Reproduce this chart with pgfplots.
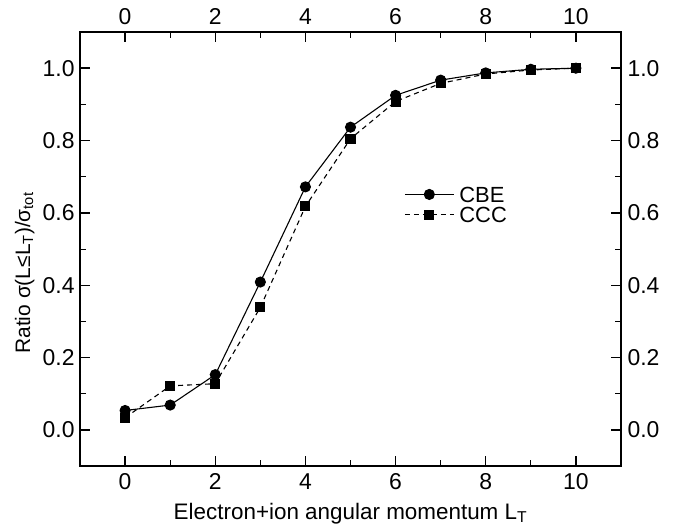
\documentclass[border=0pt]{standalone}
\usepackage{fontspec}
\setmainfont{Liberation Sans}
\usepackage{pgfplots}
\pgfplotsset{compat=1.18}

\pgfplotsset{
    ratioaxis/.style={
        scale only axis,
        width=540.7bp, height=434bp,
        at={(0,0)}, anchor=south west,
        xmin=-1, xmax=11, ymin=-0.1, ymax=1.1,
        xtick={0,2,...,10}, minor xtick={1,3,...,9},
        ytick={0,0.2,...,1.0}, minor ytick={0.1,0.3,...,0.9},
        tick align=inside,
        major tick length=10bp, minor tick length=6bp,
        every tick/.style={black, line width=1.4pt},
        every minor tick/.style={black, line width=1.2pt},
        axis line style={line width=1.5pt},
        /pgf/number format/assume math mode=true,
        tick label style={font=\fontsize{23}{27}\selectfont},
        yticklabel style={/pgf/number format/fixed, /pgf/number format/fixed zerofill, /pgf/number format/precision=1},
    }
}

\begin{document}
\begin{tikzpicture}
\path[use as bounding box] (-80bp,-65bp) rectangle (592.7bp,466bp);
\begin{axis}[
    ratioaxis,
    xticklabel style={yshift=-4bp},
    yticklabel style={xshift=-2bp},
    xlabel={Electron+ion angular momentum L\textsubscript{T}},
    ylabel={Ratio σ(L≤L\textsubscript{T})/σ\textsubscript{tot}},
    xlabel style={font=\fontsize{22.5}{26}\selectfont,
        at={(rel axis cs:0.5,0)}, anchor=base, yshift=-53bp},
    ylabel style={font=\fontsize{21}{25}\selectfont,
        at={(rel axis cs:0,0.445)}, anchor=base, yshift=50bp},
    legend style={draw=none, fill=none, at={(rel axis cs:0.599,0.6025)}, anchor=west,
        inner sep=0pt, row sep=3bp,
        font=\fontsize{22}{22}\selectfont,
        nodes={inner sep=1bp, anchor=west, text depth=0pt}},
    legend cell align=left,
    legend image code/.code={
        \draw[#1, mark repeat=2, mark phase=2] plot coordinates {(0bp,0bp) (24.5bp,0bp) (49bp,0bp)};
        \path (53bp,0bp);
    },
]
\addplot[black, line width=1.1pt, mark=*, mark size=5bp, mark options={solid, fill=black}]
    coordinates {(0,0.054) (1,0.069) (2,0.153) (3,0.409) (4,0.672) (5,0.837)
                 (6,0.925) (7,0.967) (8,0.987) (9,0.997) (10,1.0)};
\addlegendentry{CBE}
\addplot[black, line width=1.1pt, dash pattern=on 5bp off 4bp, mark=square*, mark size=4.5bp, mark options={solid, fill=black}]
    coordinates {(0,0.034) (1,0.122) (2,0.128) (3,0.339) (4,0.618) (5,0.805)
                 (6,0.908) (7,0.958) (8,0.984) (9,0.995) (10,1.0)};
\addlegendentry{CCC}
\end{axis}
\begin{axis}[
    ratioaxis,
    xticklabel pos=upper, yticklabel pos=right,
    xticklabel style={yshift=3.5bp},
    yticklabel style={xshift=3bp},
]
\end{axis}
\end{tikzpicture}
\end{document}
